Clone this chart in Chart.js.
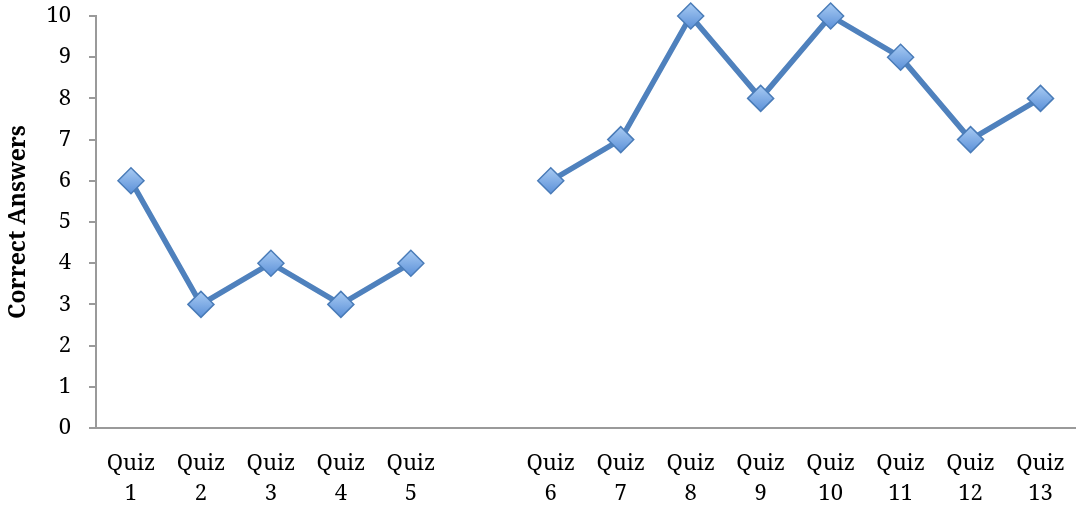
<!DOCTYPE html>
<html>
<head>
<meta charset="utf-8">
<script src="https://cdn.jsdelivr.net/npm/chart.js@4"></script>
<style>
  html, body { margin: 0; padding: 0; background: #fff; overflow: hidden; }
  #wrap { width: 1077px; height: 512px; overflow: hidden; }
</style>
</head>
<body>
<!-- canvas is a little wider than the window: Chart.js keeps ~14px on the right for the x labels -->
<div id="wrap"><canvas id="quizChart" width="1090" height="512"></canvas></div>
<script>
// --- Chart data ---
const quizLabels = [
    ['Quiz', '1'], ['Quiz', '2'], ['Quiz', '3'], ['Quiz', '4'], ['Quiz', '5'],
    '',
    ['Quiz', '6'], ['Quiz', '7'], ['Quiz', '8'], ['Quiz', '9'], ['Quiz', '10'],
    ['Quiz', '11'], ['Quiz', '12'], ['Quiz', '13']
];
const correctAnswers = [6, 3, 4, 3, 4, null, 6, 7, 10, 8, 10, 9, 7, 8];
const yTicks = { min: 0, max: 10, step: 1 };

// --- Styles ---
const lineColor = '#4f81bd';
const markerBorder = '#4a7cb8';
const axisGray = '#9a9a9a';
const serif = "'Noto Serif', 'Liberation Serif', serif";

// diamond fill: light on top, darker at the bottom
function markerFill(context) {
    const y = context.chart.scales.y;
    if (!y || context.raw == null) return '#73a5e4';
    const py = y.getPixelForValue(context.raw);
    if (!isFinite(py)) return '#73a5e4';
    const g = context.chart.ctx.createLinearGradient(0, py - 13, 0, py + 13);
    g.addColorStop(0, '#a8cbf3');
    g.addColorStop(1, '#5b90d8');
    return g;
}

const ctx = document.getElementById('quizChart').getContext('2d');
new Chart(ctx, {
    type: 'line',
    data: {
        labels: quizLabels,
        datasets: [{
            data: correctAnswers,
            borderColor: lineColor,
            borderWidth: 5.5,
            spanGaps: false,
            clip: false,
            tension: 0,
            pointStyle: 'rectRot',
            pointRadius: 13,
            pointBackgroundColor: markerFill,
            pointBorderColor: markerBorder,
            pointBorderWidth: 1.5
        }]
    },
    options: {
        responsive: false,
        animation: false,
        layout: { padding: { top: 16, right: 1, left: 0, bottom: 0 } },
        plugins: {
            legend: { display: false },
            tooltip: { enabled: false }
        },
        scales: {
            x: {
                offset: true,
                grid: { display: false, drawTicks: false },
                border: { display: true, color: axisGray, width: 2 },
                ticks: {
                    autoSkip: false,
                    maxRotation: 0,
                    padding: 21,
                    color: '#000',
                    font: { family: serif, size: 22, lineHeight: 1.36 }
                },
                afterFit: (scale) => {
                    scale.height = 84;
                    scale.paddingLeft = 0;
                    scale.paddingRight = 0;
                }
            },
            y: {
                min: yTicks.min,
                max: yTicks.max,
                grid: { drawOnChartArea: false, drawTicks: true, tickLength: 7, color: axisGray, lineWidth: 2 },
                border: { display: true, color: axisGray, width: 2 },
                ticks: {
                    stepSize: yTicks.step,
                    padding: 18,
                    color: '#000',
                    font: { family: serif, size: 22 }
                },
                title: {
                    display: true,
                    text: 'Correct Answers',
                    color: '#000',
                    padding: { top: 5, bottom: 0 },
                    font: { family: serif, size: 23, weight: 'bold' }
                },
                afterFit: (scale) => {
                    scale.width = 96;
                    scale.paddingTop = 0;
                    scale.paddingBottom = 0;
                }
            }
        }
    }
});
</script>
</body>
</html>
